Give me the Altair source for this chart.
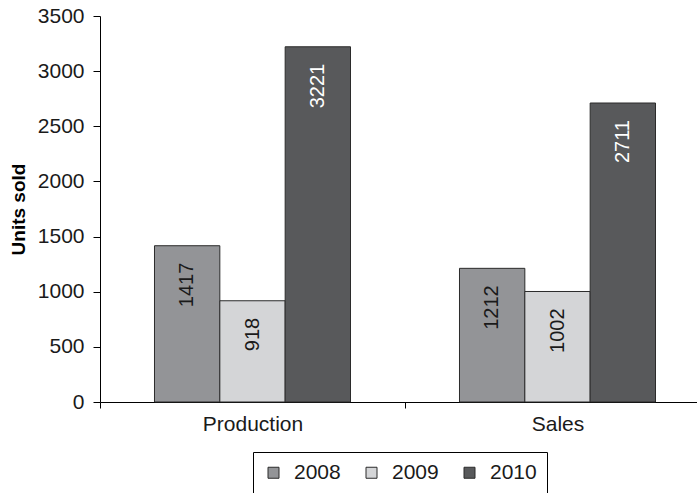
import altair as alt
import pandas as pd

categories = ["Production", "Sales"]
years = ["2008", "2009", "2010"]
production = [1417, 918, 3221]
sales = [1212, 1002, 2711]
colors = ["#939497", "#d4d5d7", "#58595b"]
y_ticks = [0, 500, 1000, 1500, 2000, 2500, 3000, 3500]

rows = []
for cat, vals in zip(categories, [production, sales]):
    for yr, v in zip(years, vals):
        rows.append({"category": cat, "year": yr, "units": v})
df = pd.DataFrame(rows)

FONT = "Liberation Sans"

base = alt.Chart(df).encode(
    x=alt.X(
        "category:N",
        sort=categories,
        title=None,
        scale=alt.Scale(range=[0, 610], paddingInner=0, paddingOuter=0),
        axis=alt.Axis(
            labelAngle=0,
            tickBand="extent",
            tickSize=6,
            tickColor="black",
            domainColor="black",
            labelFontSize=21,
            labelFont=FONT,
            labelColor="#1a1a1a",
            labelPadding=5,
            grid=False,
        ),
    ),
    xOffset=alt.XOffset(
        "year:N", sort=years, scale=alt.Scale(paddingInner=0, paddingOuter=0.834)
    ),
    y=alt.Y(
        "units:Q",
        scale=alt.Scale(domain=[0, 3500], nice=False),
        axis=alt.Axis(
            values=y_ticks,
            format="d",
            title="Units sold",
            titleFont=FONT,
            titleFontSize=19,
            titleFontWeight="bold",
            titleColor="black",
            titlePadding=9,
            labelFontSize=21,
            labelFont=FONT,
            labelColor="#1a1a1a",
            labelPadding=9,
            tickSize=7,
            tickColor="black",
            domainColor="black",
            grid=False,
        ),
    ),
)

bars = base.mark_bar(stroke="#2b2b2b", strokeWidth=1).encode(
    color=alt.Color(
        "year:N",
        sort=years,
        scale=alt.Scale(domain=years, range=colors),
        legend=alt.Legend(
            title=None,
            orient="none",
            legendX=153,
            legendY=436,
            direction="horizontal",
            strokeColor="black",
            fillColor="white",
            padding=10,
            labelFontSize=21,
            labelFont=FONT,
            labelColor="#1a1a1a",
            symbolType="square",
            symbolSize=121,
            symbolStrokeColor="#2b2b2b",
            symbolStrokeWidth=1,
            labelOffset=10,
            columnPadding=20,
        ),
    )
)

labels = base.mark_text(
    angle=270, align="right", baseline="middle", dx=-17, fontSize=20, font=FONT
).encode(
    text="units:Q",
    color=alt.condition("datum.year == '2010'", alt.value("white"), alt.value("#1a1a1a")),
)

chart = (
    alt.layer(bars, labels)
    .properties(
        width=597,
        height=386,
        autosize=alt.AutoSizeParams(type="none"),
        padding={"left": 100, "top": 16, "right": 0, "bottom": 91},
        background="white",
    )
    .configure_view(stroke=None)
)

chart.save("out.html", embed_options={"renderer": "svg", "actions": False})
